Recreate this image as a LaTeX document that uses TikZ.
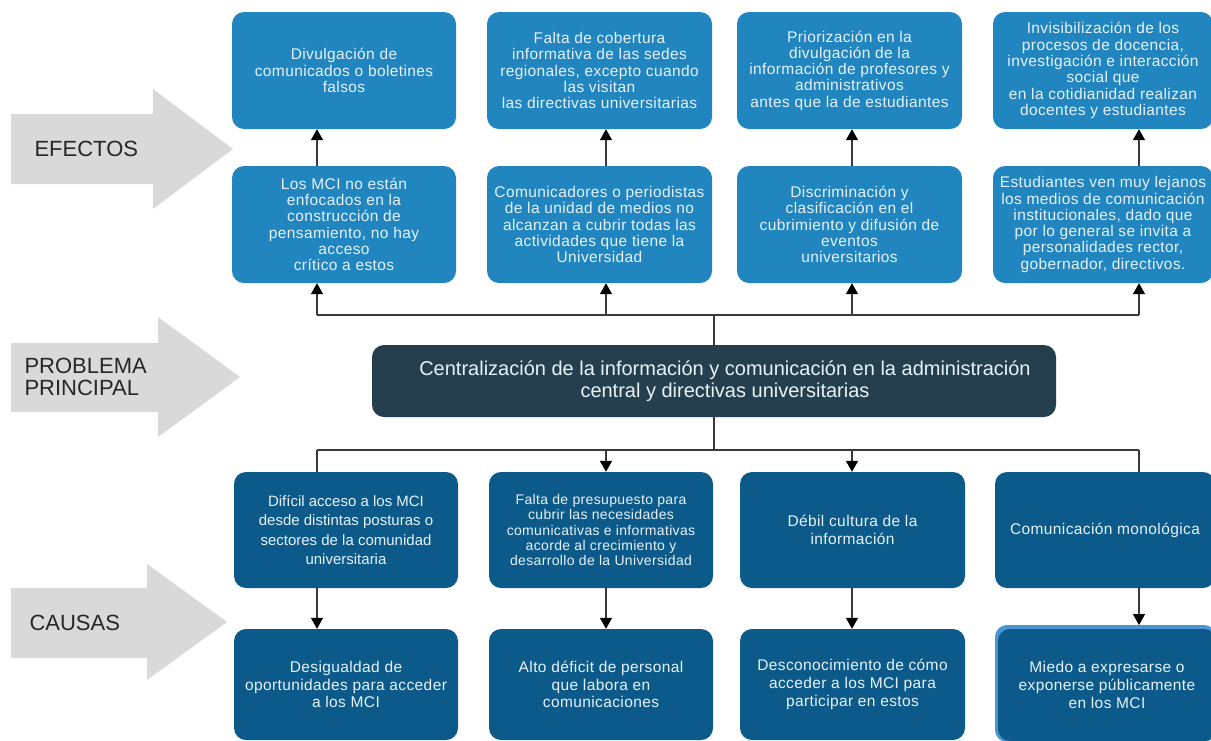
\documentclass[tikz,border=0pt]{standalone}
\usepackage{fontspec}
\setmainfont{Liberation Sans}
\newfontfamily\boxfont[LetterSpace=2.5]{Liberation Sans}
\usetikzlibrary{arrows.meta}
\definecolor{effectblue}{HTML}{2185BF}
\definecolor{causeblue}{HTML}{0C5A8A}
\definecolor{coreslate}{HTML}{263F4F}
\definecolor{boxtext}{HTML}{E6F2F8}
\definecolor{bandgray}{HTML}{D9D9D9}
\definecolor{wire}{HTML}{3A3A3A}
\definecolor{edgeblue}{HTML}{4A95D2}
\tikzset{
  card/.style={rectangle, rounded corners=12pt, text=boxtext, align=center, inner sep=2pt},
  effectcard/.style={card, fill=effectblue, minimum height=117pt,
    font=\boxfont\fontsize{15.5}{16.3}\selectfont},
  causecard/.style={card, fill=causeblue,
    font=\boxfont\fontsize{15.5}{17.8}\selectfont},
  corecard/.style={card, fill=coreslate, minimum width=684pt, minimum height=72pt,
    font=\fontsize{20}{22.5}\selectfont},
  band/.style={fill=bandgray},
  bandtext/.style={anchor=west, align=left, text=black!85, font=\fontsize{22}{22}\selectfont},
  wireline/.style={draw=wire, line width=1.4pt},
  wirearrow/.style={wireline, -{Triangle[width=12pt,length=11pt,color=black]}}
}
\begin{document}
\begin{tikzpicture}[x=1pt,y=-1pt]
\useasboundingbox (0,0) rectangle (1211,740);
\fill[white] (0,0) rectangle (1211,740);

% side bands
\path[band] (11,114) -- (153,114) -- (153,89) -- (233,149) -- (153,209) -- (153,184) -- (11,184) -- cycle;
\node[bandtext] (lblef) at (31,149) {EFECTOS};
\path[band] (11,343) -- (158,343) -- (158,317) -- (240,377) -- (158,437) -- (158,412) -- (11,412) -- cycle;
\node[bandtext] (lblpp) at (21,377) {PROBLEMA\\[0pt]PRINCIPAL};
\path[band] (11,588) -- (147,588) -- (147,564) -- (227,622) -- (147,680) -- (147,658) -- (11,658) -- cycle;
\node[bandtext] (lblca) at (26,623) {CAUSAS};

% effects, upper row
\node[effectcard, minimum width=224pt] (ea1) at (344,70.5)
  {Divulgación de\\comunicados o boletines\\falsos};
\node[effectcard, minimum width=225pt] (ea2) at (599.5,70.5)
  {Falta de cobertura\\informativa de las sedes\\regionales, excepto cuando\\las visitan\\las directivas universitarias};
\node[effectcard, minimum width=225pt] (ea3) at (849.5,70.5)
  {Priorización en la\\divulgación de la\\información de profesores y\\administrativos\\antes que la de estudiantes};
\node[effectcard, minimum width=220pt] (ea4) at (1103,70.5)
  {Invisibilización de los\\procesos de docencia,\\investigación e interacción\\social que\\en la cotidianidad realizan\\docentes y estudiantes};

% effects, lower row
\node[effectcard, minimum width=224pt] (eb1) at (344,224.5)
  {Los MCI no están\\enfocados en la\\construcción de\\pensamiento, no hay\\acceso\\crítico a estos};
\node[effectcard, minimum width=225pt] (eb2) at (599.5,224.5)
  {Comunicadores o periodistas\\de la unidad de medios no\\alcanzan a cubrir todas las\\actividades que tiene la\\Universidad};
\node[effectcard, minimum width=225pt] (eb3) at (849.5,224.5)
  {Discriminación y\\clasificación en el\\cubrimiento y difusión de\\eventos\\universitarios};
\node[effectcard, minimum width=220pt] (eb4) at (1103,224.5)
  {Estudiantes ven muy lejanos\\los medios de comunicación\\institucionales, dado que\\por lo general se invita a\\personalidades rector,\\gobernador, directivos.};

% central problem
\node[corecard] (core) at (714,381)
  {\hspace*{22pt}Centralización de la información y comunicación en la administración\\\hspace*{22pt}central y directivas universitarias};

% causes, upper row
\node[causecard, minimum width=224pt, minimum height=116pt, font=\fontsize{15}{19.3}\selectfont] (ca1) at (346,530)
  {Difícil acceso a los MCI\\desde distintas posturas o\\sectores de la comunidad\\universitaria};
\node[causecard, minimum width=224pt, minimum height=116pt, font=\boxfont\fontsize{14}{15.4}\selectfont] (ca2) at (601,530)
  {Falta de presupuesto para\\cubrir las necesidades\\comunicativas e informativas\\acorde al crecimiento y\\desarrollo de la Universidad};
\node[causecard, minimum width=225pt, minimum height=116pt] (ca3) at (852.5,530)
  {Débil cultura de la\\información};
\node[causecard, minimum width=220pt, minimum height=116pt] (ca4) at (1105,530)
  {Comunicación monológica};

% causes, lower row
\node[causecard, minimum width=224pt, minimum height=111pt] (cb1) at (346,684.5)
  {Desigualdad de\\oportunidades para acceder\\a los MCI};
\node[causecard, minimum width=224pt, minimum height=111pt] (cb2) at (601,684.5)
  {Alto déficit de personal\\que labora en\\comunicaciones};
\node[causecard, minimum width=225pt, minimum height=111pt] (cb3) at (852.5,684.5)
  {Desconocimiento de cómo\\acceder a los MCI para\\participar en estos};
\fill[edgeblue, rounded corners=12pt] (995,625) rectangle (1216,742);
\node[causecard, minimum width=218pt, minimum height=112pt] (cb4) at (1107,685)
  {Miedo a expresarse o\\exponerse públicamente\\en los MCI};

% junction points
\coordinate (up) at (714,315);
\coordinate (upa) at (317,315);
\coordinate (upb) at (606,315);
\coordinate (upc) at (852,315);
\coordinate (upd) at (1139,315);
\coordinate (dn) at (714,450);
\coordinate (dna) at (317,450);
\coordinate (dnb) at (606,450);
\coordinate (dnc) at (852,450);
\coordinate (dnd) at (1139,450);

% upward tree
\draw[wireline] (core.north) -- (up);
\draw[wireline] (upa) -- (upd);
\draw[wirearrow] (upa) -- (upa |- eb1.south);
\draw[wirearrow] (upb) -- (upb |- eb2.south);
\draw[wirearrow] (upc) -- (upc |- eb3.south);
\draw[wirearrow] (upd) -- (upd |- eb4.south);
\draw[wirearrow] (upa |- eb1.north) -- (upa |- ea1.south);
\draw[wirearrow] (upb |- eb2.north) -- (upb |- ea2.south);
\draw[wirearrow] (upc |- eb3.north) -- (upc |- ea3.south);
\draw[wirearrow] (upd |- eb4.north) -- (upd |- ea4.south);

% downward tree
\draw[wireline] (core.south) -- (dn);
\draw[wireline] (dna) -- (dnd);
\draw[wireline] (dna) -- (dna |- ca1.north);
\draw[wirearrow] (dnb) -- (dnb |- ca2.north);
\draw[wirearrow] (dnc) -- (dnc |- ca3.north);
\draw[wireline] (dnd) -- (dnd |- ca4.north);
\draw[wirearrow] (dna |- ca1.south) -- (dna |- cb1.north);
\draw[wirearrow] (dnb |- ca2.south) -- (dnb |- cb2.north);
\draw[wirearrow] (dnc |- ca3.south) -- (dnc |- cb3.north);
\draw[wirearrow] (dnd |- ca4.south) -- (dnd |- 0,625);
\end{tikzpicture}
\end{document}
